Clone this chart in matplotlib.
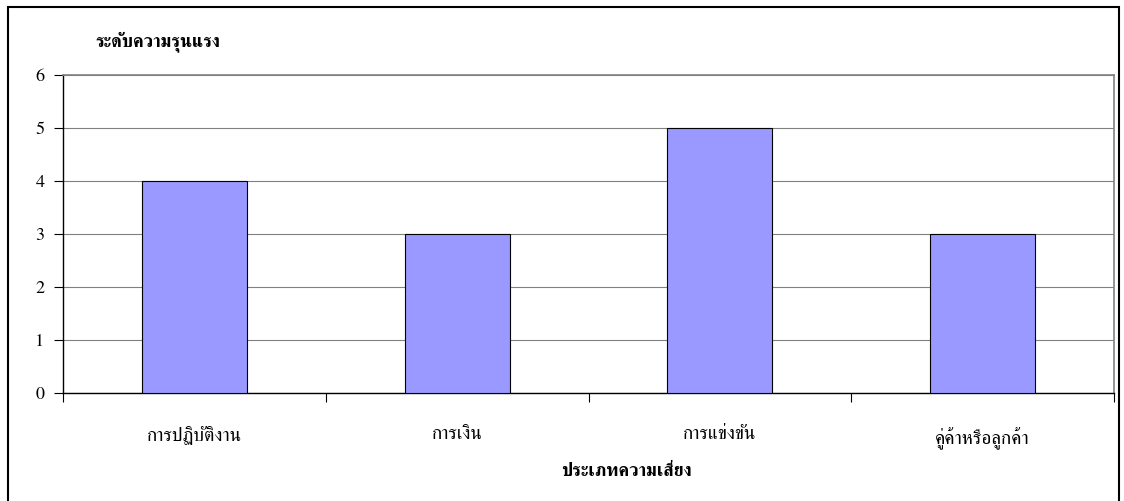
import matplotlib
matplotlib.use('Agg')
import matplotlib.pyplot as plt
from matplotlib.patches import Rectangle

plt.rcParams['font.family'] = ['FreeSerif', 'Noto Serif Thai', 'DejaVu Serif']

# risk categories and severity levels
categories = ['การปฏิบัติงาน', 'การเงิน', 'การแข่งขัน', 'คู่ค้าหรือลูกค้า']
severity = [4, 3, 5, 3]
y_ticks = [0, 1, 2, 3, 4, 5, 6]

W, H = 1124, 501
fig = plt.figure(figsize=(W / 100, H / 100), dpi=100)
ax = fig.add_axes([63 / W, (H - 393) / H, (1114 - 63) / W, (393 - 75) / H])

x = list(range(len(categories)))
ax.bar(x, severity, width=0.4, color='#9999FF', edgecolor='black', linewidth=0.8, zorder=3)

ax.set_xlim(-0.5, len(categories) - 0.5)
ax.set_ylim(0, 6)
ax.set_yticks(y_ticks)
ax.yaxis.grid(True, color='#808080', linewidth=0.8, zorder=0)

# category boundaries get the tick marks, centres get the labels
ax.set_xticks([i - 0.5 for i in range(len(categories) + 1)])
ax.set_xticklabels([])
ax.set_xticks(x, minor=True)
ax.set_xticklabels(categories, minor=True, fontsize=13.8)
ax.tick_params(axis='x', which='major', direction='out', length=6.5, width=0.8)
ax.tick_params(axis='x', which='minor', length=0, pad=24)
ax.tick_params(axis='y', direction='out', length=6.5, width=0.8, pad=7, labelsize=13)

for side in ('top', 'right'):
    ax.spines[side].set_color('#808080')
    ax.spines[side].set_linewidth(1.2)
for side in ('left', 'bottom'):
    ax.spines[side].set_color('black')
    ax.spines[side].set_linewidth(1.0)

fig.text(95 / W, 1 - 42 / H, 'ระดับความรุนแรง', fontsize=13, fontweight='bold', va='center', ha='left')
fig.text(626 / W, 1 - 471 / H, 'ประเภทความเสี่ยง', fontsize=13, fontweight='bold', va='center', ha='center')

# outer chart frame
fig.patches.append(Rectangle((8 / W, -0.05), (1119 - 8) / W, (H - 7) / H + 0.05,
                             transform=fig.transFigure, fill=False,
                             edgecolor='black', linewidth=1.5))

fig.savefig('out.png')
